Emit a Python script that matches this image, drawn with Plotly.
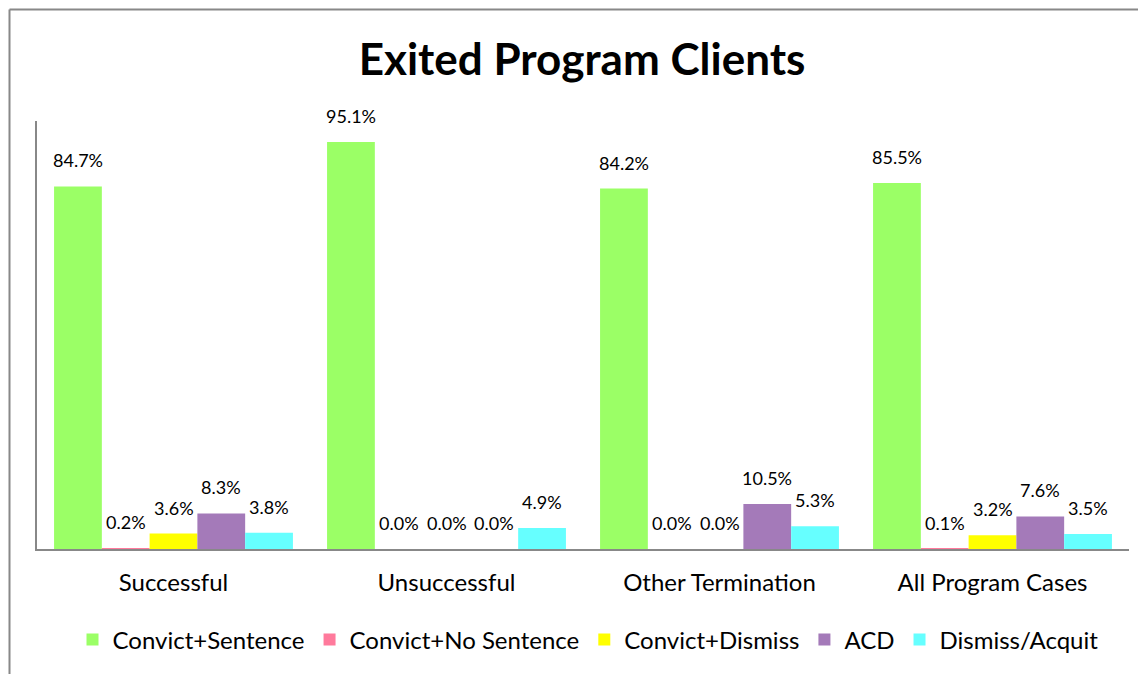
import plotly.graph_objects as go

categories = ["Successful", "Unsuccessful", "Other Termination", "All Program Cases"]
series_names = ["Convict+Sentence", "Convict+No Sentence", "Convict+Dismiss", "ACD", "Dismiss/Acquit"]
convict_sentence = [84.7, 95.1, 84.2, 85.5]
convict_no_sentence = [0.2, 0.0, 0.0, 0.1]
convict_dismiss = [3.6, 0.0, 0.0, 3.2]
acd = [8.3, 0.0, 10.5, 7.6]
dismiss_acquit = [3.8, 4.9, 5.3, 3.5]
colors = ["#9BFF66", "#FF7A9C", "#FFFF00", "#A47AB9", "#66FFFF"]

series = [convict_sentence, convict_no_sentence, convict_dismiss, acd, dismiss_acquit]

W, H = 1146, 674
OFF = 8  # page body margin in the browser
# target screen positions (page pixels)
PLOT_L, PLOT_R, PLOT_T, PLOT_B = 37, 1129, 121, 549
ML = PLOT_L - OFF
MT = PLOT_T - OFF
MR = W - PLOT_R + OFF
MB = H - PLOT_B + OFF
plot_w = W - ML - MR
plot_h = H - MT - MB
BARGAP = 0.125
cat_px = plot_w / len(categories)
bar_px = cat_px * (1 - BARGAP) / len(series)

FONT = "Lato"

fig = go.Figure()
for name, vals, col in zip(series_names, series, colors):
    fig.add_trace(go.Bar(x=categories, y=vals, name=name, marker=dict(color=col, line=dict(width=0))))

annotations = []
n = len(series)
for i, vals in enumerate(series):
    for c, v in zip(categories, vals):
        annotations.append(dict(
            x=c, y=v, xref="x", yref="y", text=f"{v:.1f}%", showarrow=False,
            xshift=(i - (n - 1) / 2) * bar_px, yshift=26, yanchor="middle",
            font=dict(family=FONT, size=18, color="black")))

def px2x(px):
    return (px - PLOT_L) / plot_w

def py2y(py):
    return (PLOT_B - py) / plot_h

BORDER_X, BORDER_Y = 9.5, 9.5
shapes = [
    dict(type="line", xref="paper", yref="paper", x0=px2x(BORDER_X), x1=px2x(BORDER_X),
         y0=py2y(BORDER_Y), y1=py2y(720), line=dict(color="#888888", width=2)),
    dict(type="line", xref="paper", yref="paper", x0=px2x(BORDER_X), x1=px2x(1220),
         y0=py2y(BORDER_Y), y1=py2y(BORDER_Y), line=dict(color="#888888", width=2)),
]

fig.update_layout(
    width=W, height=H,
    margin=dict(l=ML, r=MR, t=MT, b=MB),
    paper_bgcolor="white", plot_bgcolor="white",
    barmode="group", bargap=BARGAP, bargroupgap=0,
    title=dict(text="<b>Exited Program Clients</b>", x=px2x(582), xref="paper", xanchor="center",
               y=1 - (60 - OFF) / H, yref="container", yanchor="middle",
               font=dict(family=FONT, size=44, color="black")),
    xaxis=dict(showline=True, linecolor="#888888", linewidth=2, showgrid=False, ticks="",
               ticklabelstandoff=11, tickfont=dict(family=FONT, size=24, color="black")),
    yaxis=dict(range=[0, 100], showline=True, linecolor="#888888", linewidth=2, showgrid=False,
               showticklabels=False, ticks="", zeroline=False),
    legend=dict(orientation="h", x=px2x(588), xanchor="center", y=py2y(640), yanchor="middle",
                font=dict(family=FONT, size=24, color="black"), traceorder="normal"),
    annotations=annotations,
    shapes=shapes,
    showlegend=True,
)

fig.write_html("out.html")
